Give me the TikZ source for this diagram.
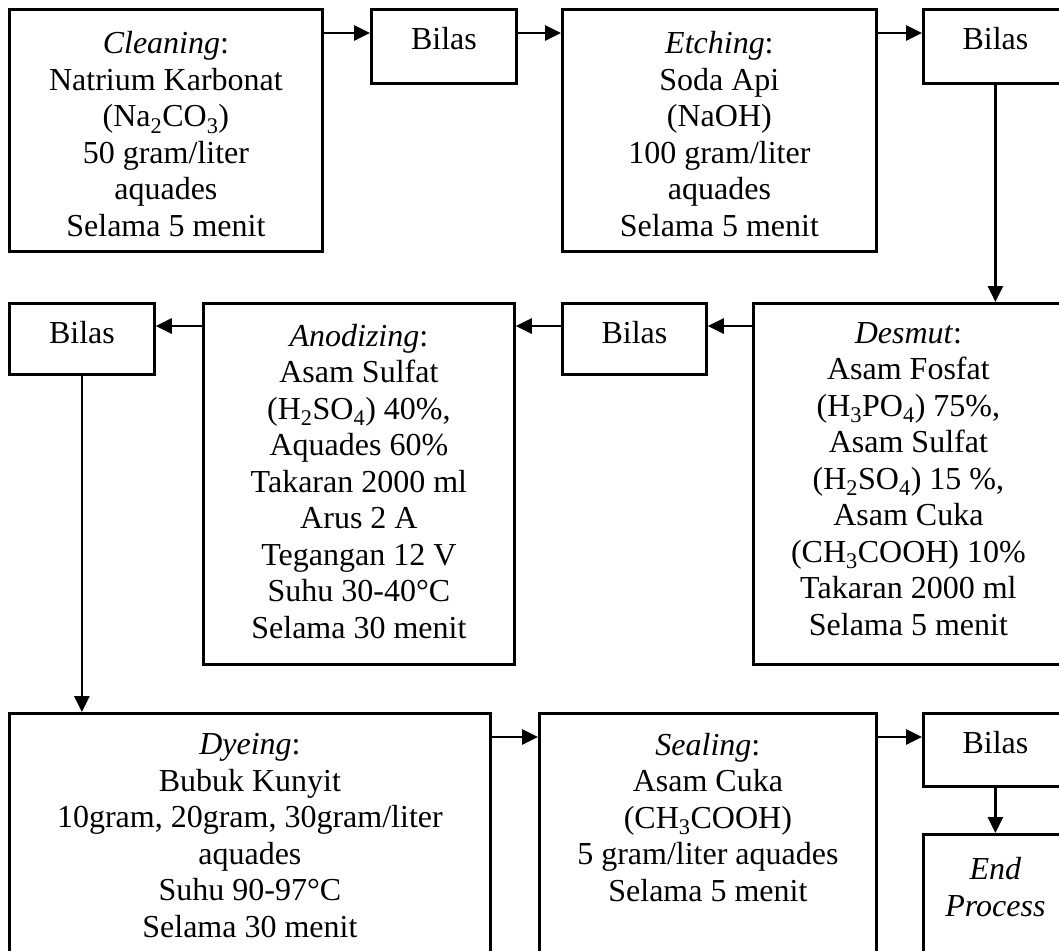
\documentclass[tikz,border=0pt]{standalone}
\usepackage{fontspec}
\setmainfont{Liberation Serif}
\usepackage{tikz}
\usetikzlibrary{arrows.meta, positioning, calc}

\begin{document}
\begin{tikzpicture}[
    x=1pt, y=-1pt,
    font=\fontsize{32}{36.5}\selectfont,
    line width=2.8pt,
    >={Triangle[length=16pt, width=15pt]},
    block/.style n args={3}{rectangle, draw, anchor=north west, inner sep=0pt, align=center, minimum width=#1, text height=#2, text depth=#3},
    arrow/.style={->},
]
    \useasboundingbox (0,0) rectangle (1059,950);
    \clip (0,0) rectangle (1059,950);

    % Cleaning
    \node[block={313pt}{227pt}{15pt}] (clean) at (8,8) {\textit{Cleaning}:\\Natrium Karbonat\\(Na\textsubscript{2}CO\textsubscript{3})\\50 gram/liter\\aquades\\Selama 5 menit};

    % Bilas
    \node[block={145pt}{40pt}{34pt}] (bilasA) at (370,8) {Bilas};

    % Etching
    \node[block={314pt}{227pt}{15pt}] (etch) at (561,8) {\textit{Etching}:\\Soda Api\\(NaOH)\\100 gram/liter\\aquades\\Selama 5 menit};

    % Bilas
    \node[block={144pt}{40pt}{34pt}] (bilasB) at (922,8) {Bilas};

    % Desmut
    \node[block={310pt}{332pt}{29pt}] (desmut) at (752,302) {\textit{Desmut}:\\Asam Fosfat\\(H\textsubscript{3}PO\textsubscript{4}) 75\%,\\Asam Sulfat\\(H\textsubscript{2}SO\textsubscript{4}) 15 \%,\\Asam Cuka\\(CH\textsubscript{3}COOH) 10\%\\Takaran 2000 ml\\Selama 5 menit};

    % Bilas
    \node[block={144pt}{40pt}{31pt}] (bilasC) at (561,302) {Bilas};

    % Anodizing
    \node[block={311pt}{335pt}{26pt}] (anod) at (202,302) {\textit{Anodizing}:\\Asam Sulfat\\(H\textsubscript{2}SO\textsubscript{4}) 40\%,\\Aquades 60\%\\Takaran 2000 ml\\Arus 2 A\\Tegangan 12 V\\Suhu 30-40°C\\Selama 30 menit};

    % Bilas
    \node[block={145pt}{40pt}{31pt}] (bilasD) at (8,302) {Bilas};

    % Dyeing
    \node[block={481pt}{224pt}{40pt}] (dye) at (8,712) {\textit{Dyeing}:\\Bubuk Kunyit\\10gram, 20gram, 30gram/liter\\aquades\\Suhu 90-97°C\\Selama 30 menit};

    % Sealing
    \node[block={337pt}{188pt}{80pt}] (seal) at (538,712) {\textit{Sealing}:\\Asam Cuka\\(CH\textsubscript{3}COOH)\\5 gram/liter aquades\\Selama 5 menit};

    % Bilas
    \node[block={144pt}{40pt}{33pt}] (bilasE) at (922,712) {Bilas};

    % End Process
    \node[block={144pt}{82pt}{80pt}] (endp) at (922,833) {\textit{End}\\\textit{Process}};

    % Arrows
    \draw[arrow] ([yshift=-25pt]clean.north east) -- ([yshift=-25pt]bilasA.north west);
    \draw[arrow] ([yshift=-25pt]bilasA.north east) -- ([yshift=-25pt]etch.north west);
    \draw[arrow] ([yshift=-25pt]etch.north east) -- ([yshift=-25pt]bilasB.north west);
    \draw[arrow] (bilasB.south) -- (bilasB.south |- desmut.north);
    \draw[arrow] ([yshift=-24pt]desmut.north west) -- ([yshift=-24pt]bilasC.north east);
    \draw[arrow] ([yshift=-24pt]bilasC.north west) -- ([yshift=-24pt]anod.north east);
    \draw[arrow] ([yshift=-24pt]anod.north west) -- ([yshift=-24pt]bilasD.north east);
    \draw[arrow] (bilasD.south) -- (bilasD.south |- dye.north);
    \draw[arrow] ([yshift=-25pt]dye.north east) -- ([yshift=-25pt]seal.north west);
    \draw[arrow] ([yshift=-25pt]seal.north east) -- ([yshift=-25pt]bilasE.north west);
    \draw[arrow] (bilasE.south) -- (endp.north);

\end{tikzpicture}
\end{document}
